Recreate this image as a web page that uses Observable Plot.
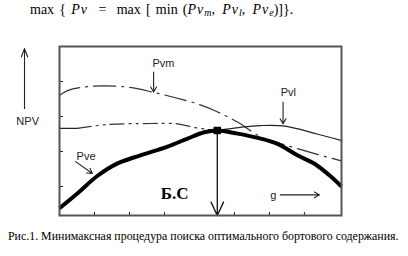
<!DOCTYPE html>
<html><head><meta charset="utf-8">
<script src="https://cdn.jsdelivr.net/npm/d3@7"></script>
<script src="https://cdn.jsdelivr.net/npm/@observablehq/plot@0.6"></script>
<style>
body{margin:0;background:#fff;}
#wrap{position:relative;width:408px;height:256px;overflow:hidden;background:#fff;}
#hdr{position:absolute;left:30px;top:2px;font-family:"Liberation Serif","Times New Roman",serif;font-size:14px;word-spacing:1.7px;white-space:pre;color:#000;}
#hdr i{letter-spacing:1px;}
#hdr sub{font-size:10px;vertical-align:-2px;letter-spacing:0;}
#chart{position:absolute;left:0;top:40px;}
#fignote{position:absolute;left:8px;top:229px;font-family:"Liberation Serif",serif;font-size:11.9px;white-space:nowrap;color:#000;}
</style></head>
<body><div id="wrap">
<div id="hdr">max { <i>Pv</i>  =  max [ min (<i>Pv<sub>m</sub>, Pv<sub>l</sub>, Pv<sub>e</sub></i>)]}.</div>
<div id="chart"></div>
<div id="fignote">Рис.1. Минимаксная процедура поиска оптимального бортового содержания.</div>
</div>
<script>
// Pve (thick curve)
const pveG   = [0, 0.51, 1.08, 1.66, 2.31, 3.09, 3.66, 4.14, 4.51, 5.09, 5.66, 6.23, 6.8, 7.29, 7.77, 8.06];
const pveNPV = [0.38, 0.8, 1.3, 1.66, 1.89, 2.14, 2.37, 2.55, 2.6, 2.51, 2.39, 2.22, 1.89, 1.65, 1.27, 1.0];
// Pvm (dash-dot)
const pvmG   = [0, 0.23, 0.89, 1.94, 2.69, 3.26, 3.94, 4.43, 5.09, 5.77, 6.51, 7.29, 8.06];
const pvmNPV = [3.6, 3.74, 3.86, 3.84, 3.69, 3.55, 3.36, 3.17, 2.84, 2.41, 2.17, 1.94, 1.73];
// Pvl
const pvlG   = [0, 0.51, 1.37, 2.6, 3.37, 3.83, 4.23, 4.51, 5.17, 5.74, 6.4, 7.36, 8.06];
const pvlNPV = [2.66, 2.66, 2.77, 2.8, 2.79, 2.69, 2.63, 2.6, 2.69, 2.74, 2.73, 2.5, 2.31];
const pvlDashFrom = 0.51, pvlDashTo = 4.51;
// optimum point (Б.С)
const optG = [4.51];
const optNPV = [2.6];
// ticks
const xTicks = [1, 2, 3, 5, 6, 7];
const yTicks = [1, 2, 3, 4];
// annotation labels
const labelText = ["Pvm", "Pvl", "Pve", "NPV", "g"];
const labelG    = [2.97, 6.54, 0.76, -0.91, 6.11];
const labelNPV  = [4.51, 3.69, 1.86, 2.86, 0.74];
// annotation arrows
const arrG1   = [2.69, 6.39, 0.46, 6.31];
const arrNPV1 = [4.27, 3.41, 1.71, 0.76];
const arrG2   = [2.69, 6.39, 0.94, 7.43];
const arrNPV2 = [3.70, 2.79, 1.37, 0.76];
const axisArrowG = [-1.0], axisArrowNPV1 = [3.23], axisArrowNPV2 = [4.94];
const bsLabel = ["Б.С"], bsG = [3.29], bsNPV = [0.8];

const pve = pveG.map((g, i) => ({g, npv: pveNPV[i]}));
const pvm = pvmG.map((g, i) => ({g, npv: pvmNPV[i]}));
const pvl = pvlG.map((g, i) => ({g, npv: pvlNPV[i]}));
const labels = labelText.map((t, i) => ({t, g: labelG[i], npv: labelNPV[i]}));
const arrows = arrG1.map((g, i) => ({g1: g, n1: arrNPV1[i], g2: arrG2[i], n2: arrNPV2[i]}));
const opt = optG.map((g, i) => ({g, npv: optNPV[i]}));
const axisArrow = axisArrowG.map((g, i) => ({g, n1: axisArrowNPV1[i], n2: axisArrowNPV2[i]}));
const bs = bsLabel.map((t, i) => ({t, g: bsG[i], npv: bsNPV[i]}));
const yMin = 0.171;

const chart = Plot.plot({
  width: 408, height: 180,
  marginLeft: 59, marginRight: 67, marginTop: 6, marginBottom: 5,
  x: {domain: [0, 8.06]},
  y: {domain: [yMin, 5]},
  style: {fontFamily: "'Liberation Sans', Arial, sans-serif", fontSize: "11px", background: "#fff", overflow: "visible"},
  marks: [
    Plot.axisX(xTicks, {tickSize: 3, dy: -3, tickFormat: () => "", label: null, stroke: "#222"}),
    Plot.axisY(yTicks, {tickSize: 4, dx: 4, tickFormat: () => "", label: null, stroke: "#222"}),
    Plot.line(pvm, {x: "g", y: "npv", curve: "catmull-rom", stroke: "#333", strokeWidth: 1.2, strokeDasharray: "22,6,2,6"}),
    Plot.line(pvl, {filter: d => d.g <= pvlDashFrom, x: "g", y: "npv", stroke: "#222", strokeWidth: 1.2}),
    Plot.line(pvl, {filter: d => d.g >= pvlDashFrom && d.g <= pvlDashTo, x: "g", y: "npv", curve: "catmull-rom", stroke: "#333", strokeWidth: 1.2, strokeDasharray: "14,5,2,5,2,5"}),
    Plot.line(pvl, {filter: d => d.g >= pvlDashTo, x: "g", y: "npv", curve: "catmull-rom", stroke: "#222", strokeWidth: 1.2}),
    Plot.line(pve, {x: "g", y: "npv", curve: "catmull-rom", stroke: "#000", strokeWidth: 4, strokeLinecap: "butt"}),
    Plot.arrow(opt, {x1: "g", y1: "npv", x2: "g", y2: () => yMin, stroke: "#111", strokeWidth: 1.3, headLength: 17, headAngle: 50}),
    Plot.dot(opt, {x: "g", y: "npv", symbol: "square", r: 4.2, fill: "#000"}),
    Plot.arrow(arrows, {x1: "g1", y1: "n1", x2: "g2", y2: "n2", stroke: "#222", strokeWidth: 1.1, headLength: 8, headAngle: 60}),
    Plot.arrow(axisArrow, {x1: "g", y1: "n1", x2: "g", y2: "n2", stroke: "#222", strokeWidth: 1.1, headLength: 12, headAngle: 42}),
    Plot.text(labels, {x: "g", y: "npv", text: "t", fill: "#222", fontSize: 11}),
    Plot.text(bs, {x: "g", y: "npv", text: "t", fill: "#000", fontSize: 17, fontFamily: "'Liberation Serif','Times New Roman',serif", fontWeight: "bold"}),
    Plot.frame({stroke: "#555", strokeWidth: 2})
  ]
});
document.getElementById("chart").appendChild(chart);
</script>
</body></html>
